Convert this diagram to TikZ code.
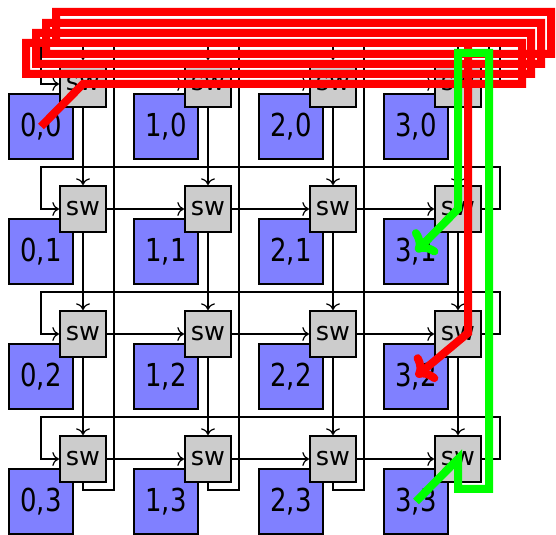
\documentclass[tikz,border=0pt]{standalone}
\usepackage{fontspec}
\setsansfont{DejaVu Sans}
\newfontfamily\pefont[FakeStretch=0.82]{DejaVu Sans}
\usetikzlibrary{arrows.meta,calc}
\definecolor{routegreen}{RGB}{0,255,0}

\begin{document}
\begin{tikzpicture}[x=0.2mm, y=-0.2mm, >={To[scale=1.2]}, line width=0.7pt,
	pe/.style={draw, line width=0.9pt, fill=blue!50, minimum size=12.9mm, inner sep=0pt, font=\pefont\fontsize{18}{18}\selectfont},
	swbox/.style={draw, line width=0.9pt, fill=gray!40, minimum size=9.3mm, inner sep=0pt, font=\sffamily\fontsize{14.5}{15}\selectfont},
	route/.style={line width=1.6mm, -{To[length=3.4mm,width=6.8mm]}}]
	\useasboundingbox (0,0) rectangle (556,535);
	% processing elements and their switches
	\foreach \i in {0,...,3}
		\foreach \j in {0,...,3} {
			\node[pe] (pe\i\j) at ({41+125*\i},{126.5+125*\j}) {\i,\j};
			\node[swbox] (sw\i\j) at ({83+125*\i},{84+125*\j}) {sw};
		}
	% mesh links
	\foreach \i/\ii in {0/1,1/2,2/3}
		\foreach \j in {0,...,3} {
			\draw[->] (sw\i\j) -- (sw\ii\j);
			\draw[->] (sw\j\i) -- (sw\j\ii);
		}
	% wrap-around links
	\foreach \k in {0,...,3} {
		\draw[->] (sw3\k.east) -| ($(sw3\k.north east)+(18,-18)$) -| ($(sw0\k.west)+(-18,0)$) -- (sw0\k.west);
		\draw[->] (sw\k3.south) -- ++(0,7) -| ($(sw\k0.north east)+(7,-18)$) -| (sw\k0.north);
	}
	% routes
	\draw[route, red] (pe00.center) -- (sw00.center) -- (522,84) -- (522,43) -- (26,43) -- (26,74)
		-- (531,74) -- (531,33) -- (36,33) -- (36,64) -- (541,64) -- (541,23) -- (46,23) -- (46,54)
		-- (551,54) -- (551,12) -- (56,12) -- (56,43) -- (468,43) -- (468,333) -- (pe32.center);
	\draw[route, routegreen] (pe33.center) -- (sw33.center) |- (489,489) -- (489,53) -| (sw31.center) -- (pe31.center);
\end{tikzpicture}
\end{document}
